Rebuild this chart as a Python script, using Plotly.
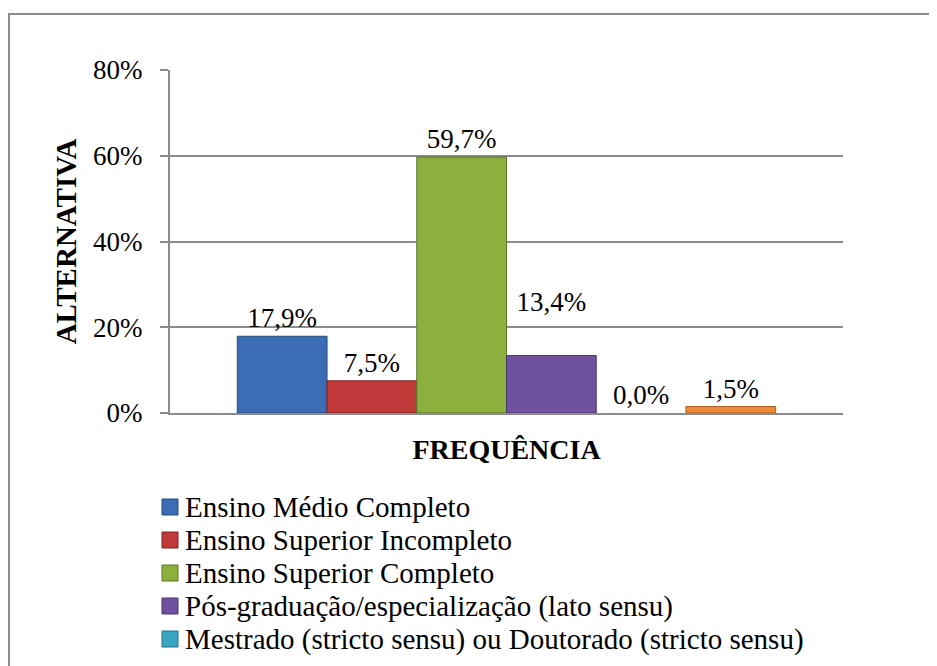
import plotly.graph_objects as go

# ---- data ----
categories = ["FREQUÊNCIA"]
series_names = [
    "Ensino Médio Completo",
    "Ensino Superior Incompleto",
    "Ensino Superior Completo",
    "Pós-graduação/especialização (lato sensu)",
    "Mestrado (stricto sensu) ou Doutorado (stricto sensu)",
    "",  # sixth series: its legend entry is cut off in the reference
]
series_values = [0.179, 0.075, 0.597, 0.134, 0.000, 0.015]
y_tick_values = [0, 0.2, 0.4, 0.6, 0.8]
y_tick_labels = ["0%", "20%", "40%", "60%", "80%"]

# ---- style ----
colors = ["#3A6DB4", "#BF3A38", "#8CAF3D", "#7051A0", "#3AA5C0", "#EC8B3A"]
edges = ["#24497A", "#7E2220", "#5C7628", "#4A346C", "#21708A", "#A85A1C"]
# the 4th label sits higher (above the 20% gridline) in the reference
label_raised = [False, False, False, True, False, False]
FONT = "Liberation Serif"
W, H = 937, 666
OFF = 8  # page body margin offset
# target screen positions of the plot area
SX0, SX1, SY0, SY1 = 170, 843, 70, 413
ML = SX0 - OFF
MT = SY0 - OFF
MR = W - (SX1 - OFF)
MB = H - (SY1 - OFF)
PW, PH = W - ML - MR, H - MT - MB


def px_x(px):
    """screen px -> paper x"""
    return (px - SX0) / PW


def px_y(py):
    """screen px -> paper y"""
    return (SY1 - py) / PH


fig = go.Figure()
for name, val, col, edge, raised in zip(series_names, series_values, colors, edges, label_raised):
    fig.add_trace(go.Bar(
        x=categories, y=[val], name=name,
        marker=dict(color=col, line=dict(color=edge, width=1 if val > 0 else 0)),
        texttemplate="%{y:.1%}" + ("<br> " if raised else ""), textposition="outside",
        textfont=dict(family=FONT, size=27, color="black"),
        cliponaxis=False, showlegend=False,
    ))

shapes = []
annotations = []
# outer chart border (extends past right/bottom edges like the reference)
shapes.append(dict(type="rect", xref="paper", yref="paper",
                   x0=px_x(OFF + 1), x1=px_x(W + 20), y0=px_y(H + 30), y1=px_y(14),
                   line=dict(color="#8C8C8C", width=2), fillcolor="rgba(0,0,0,0)",
                   layer="below"))

# manual legend (only the entries visible in the reference)
for i, (name, col, edge) in enumerate(zip(series_names, colors, edges)):
    if not name:
        continue
    cy = 507 + 33 * i
    shapes.append(dict(type="rect", xref="paper", yref="paper",
                       x0=px_x(162), x1=px_x(178), y0=px_y(cy + 8), y1=px_y(cy - 8),
                       fillcolor=col, line=dict(color=edge, width=1)))
    annotations.append(dict(xref="paper", yref="paper", x=px_x(183), y=px_y(cy),
                            text=name, showarrow=False, xanchor="left", yanchor="middle",
                            font=dict(family=FONT, size=29, color="black")))

fig.update_layout(
    width=W, height=H,
    margin=dict(l=ML, r=MR, t=MT, b=MB, autoexpand=False),
    paper_bgcolor="white", plot_bgcolor="white",
    barmode="group", bargap=0.2, bargroupgap=0,
    separators=",.",
    showlegend=False,
    font=dict(family=FONT, size=27, color="black"),
    shapes=shapes, annotations=annotations,
    xaxis=dict(
        showticklabels=False, ticks="", showgrid=False,
        showline=True, linecolor="#8C8C8C", linewidth=2,
        title=dict(text="<b>FREQUÊNCIA</b>", font=dict(family=FONT, size=28, color="black"),
                   standoff=25),
        automargin=False,
    ),
    yaxis=dict(
        range=[0, 0.8], tickvals=y_tick_values, ticktext=y_tick_labels,
        ticks="outside", ticklen=8, tickcolor="#8C8C8C", tickwidth=2,
        ticklabelstandoff=12,
        showgrid=True, gridcolor="#8C8C8C", gridwidth=2,
        showline=True, linecolor="#8C8C8C", linewidth=2,
        zeroline=False,
        tickfont=dict(family=FONT, size=27, color="black"),
        title=dict(text="<b>ALTERNATIVA</b>", font=dict(family=FONT, size=29, color="black"),
                   standoff=8),
        automargin=False,
    ),
)

fig.write_html("out.html")
